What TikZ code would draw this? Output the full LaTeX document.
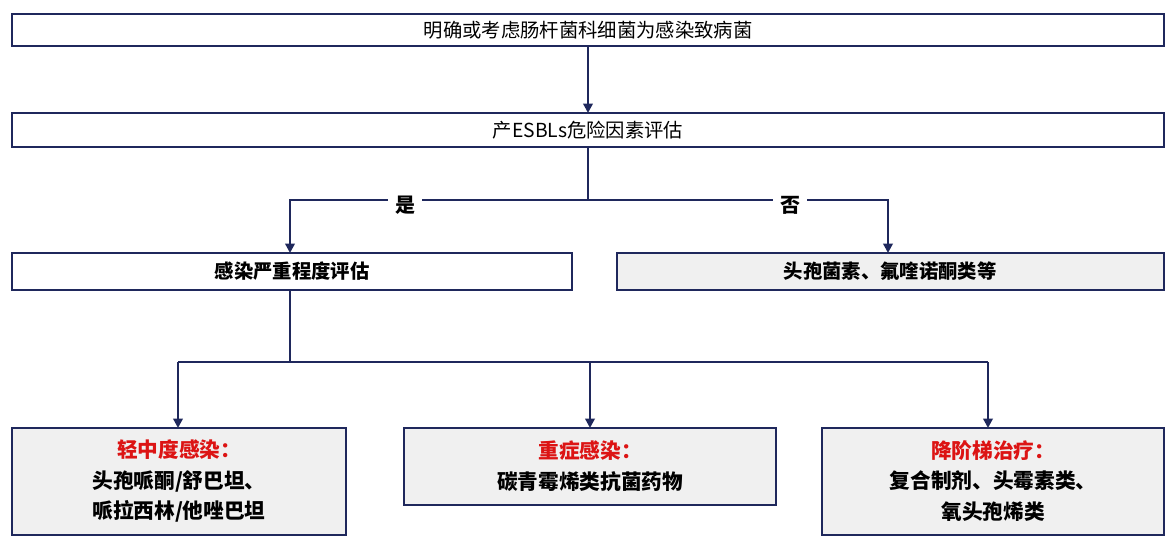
\documentclass[tikz,border=0pt]{standalone}
\usepackage{fontspec}
\setmainfont{Noto Sans CJK SC}
\usetikzlibrary{arrows.meta}
\definecolor{navy}{RGB}{31,40,92}
\definecolor{boxgray}{RGB}{240,240,240}
\definecolor{hred}{RGB}{220,20,20}
\begin{document}
\begin{tikzpicture}[x=0.75pt,y=-0.75pt,
  bx/.style={draw=navy,line width=2.2pt,fill=white,inner sep=0pt},
  gbx/.style={bx,fill=boxgray},
  ln/.style={draw=navy,line width=1.8pt},
  ar/.style={ln,-{Triangle[length=7pt,width=7pt]}},
  lab/.style={fill=white,font=\fontsize{15}{17}\selectfont\bfseries,text=black,inner sep=5pt}]
\useasboundingbox (0,0) rectangle (1176,556);
\path[bx] (12,14) rectangle (1164,46);
\node[font=\fontsize{14.5}{16}\selectfont] (t1) at (588,30) {明确或考虑肠杆菌科细菌为感染致病菌};
\path[bx] (12,113) rectangle (1164,147);
\node[font=\fontsize{14.5}{16}\selectfont] (t2) at (588,130) {产ESBLs危险因素评估};
\path[bx] (12,253) rectangle (572,290);
\node[font=\fontsize{14.5}{16}\selectfont\bfseries] (t3) at (292,271.5) {感染严重程度评估};
\path[gbx] (617,253) rectangle (1164,290);
\node[font=\fontsize{14.5}{16}\selectfont\bfseries] (t4) at (890,271.5) {头孢菌素、氟喹诺酮类等};
\path[gbx] (12,428) rectangle (346,535);
\node[align=center,font=\fontsize{15.5}{23}\selectfont\bfseries] (b1) at (179,481) {\textcolor{hred}{轻中度感染：}\\头孢哌酮/舒巴坦、\\哌拉西林/他唑巴坦};
\path[gbx] (404,428) rectangle (776,505);
\node[align=center,font=\fontsize{15.5}{23}\selectfont\bfseries] (b2) at (590,466) {\textcolor{hred}{重症感染：}\\碳青霉烯类抗菌药物};
\path[gbx] (822,428) rectangle (1164,535);
\node[align=center,font=\fontsize{15.5}{23}\selectfont\bfseries] (b3) at (993,481) {\textcolor{hred}{降阶梯治疗：}\\复合制剂、头霉素类、\\氧头孢烯类};
\coordinate (a1) at (588,46); \coordinate (a2) at (588,113);
\draw[ar] (a1) -- (a2);
\coordinate (s) at (588,147); \coordinate (j) at (588,200);
\coordinate (l) at (290,200); \coordinate (r) at (888,200);
\coordinate (le) at (290,253); \coordinate (re) at (888,253);
\draw[ln] (s) -- (j);
\draw[ar] (j) -- (l) -- (le);
\draw[ar] (j) -- (r) -- (re);
\node[lab] (yes) at (405,205) {是};
\node[lab] (no) at (790,205) {否};
\coordinate (s2) at (290,290); \coordinate (j2) at (290,362);
\coordinate (m1) at (178,362); \coordinate (m3) at (988,362); \coordinate (m2) at (590,362);
\draw[ln] (s2) -- (j2);
\draw[ln] (m1) -- (m3);
\draw[ar] (m1) -- (178,428);
\draw[ar] (m2) -- (590,428);
\draw[ar] (m3) -- (988,428);
\end{tikzpicture}
\end{document}
